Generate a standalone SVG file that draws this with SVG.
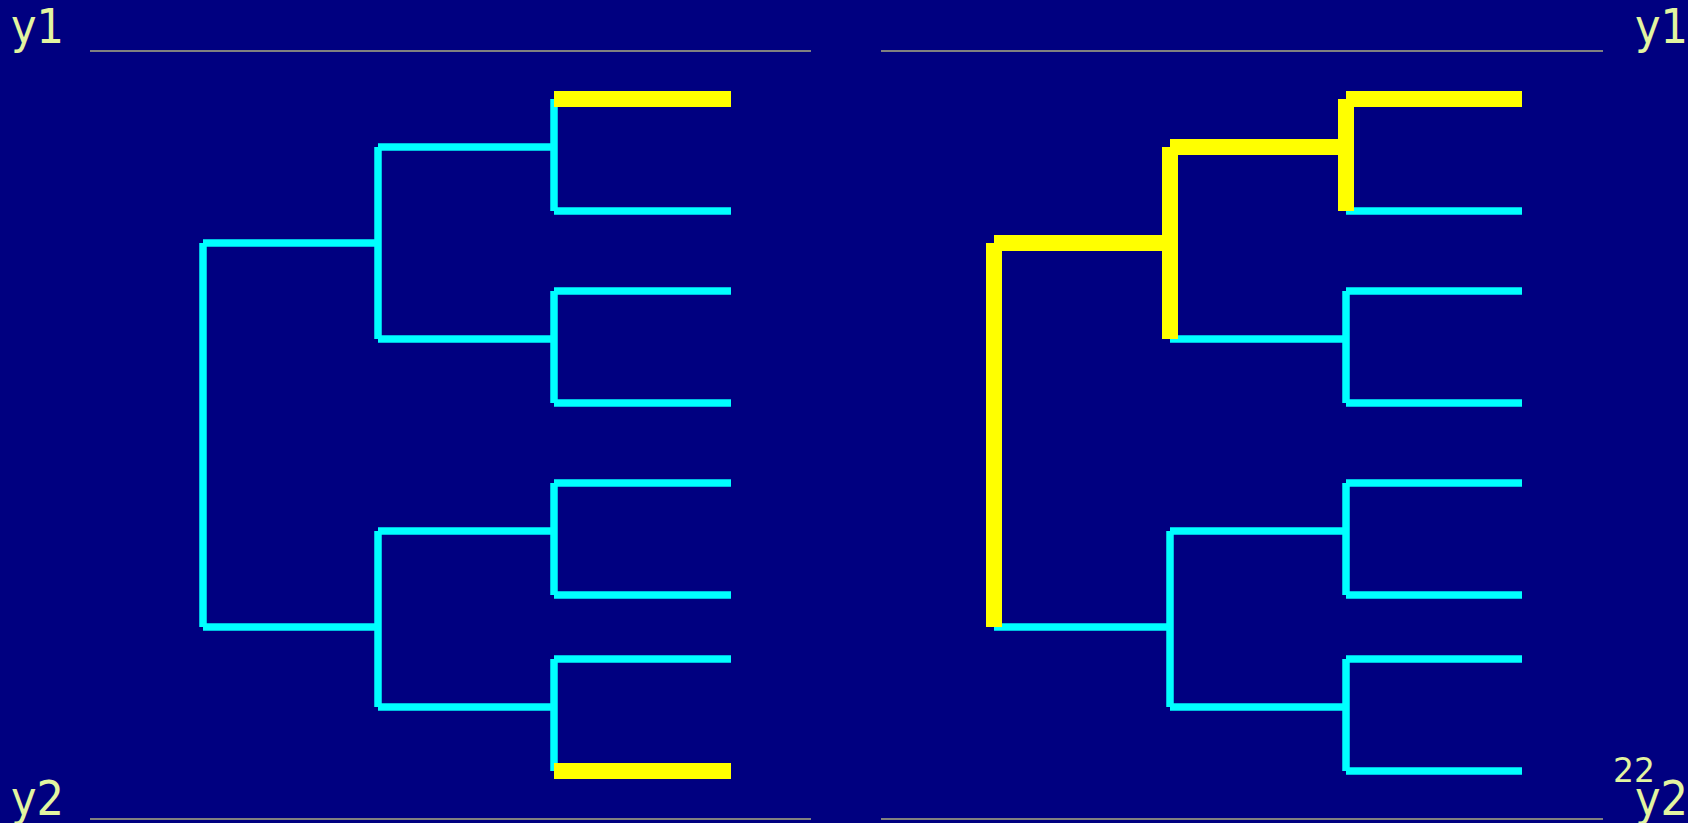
<svg xmlns="http://www.w3.org/2000/svg" width="1688" height="823" viewBox="0 0 1688 823">
<style>
.c{stroke:#00FFFF;stroke-width:7.5;fill:none;stroke-linecap:butt}
.y{stroke:#FFFF00;stroke-width:16;fill:none;stroke-linecap:butt}
.g{stroke:#808080;stroke-width:2}
.t{font-family:"DejaVu Sans Condensed","DejaVu Sans",sans-serif;font-stretch:condensed;fill:#E3F5A0}
.n{font-family:"DejaVu Sans",sans-serif;fill:#E3F5A0}
</style>
<rect width="1688" height="823" fill="#000080"/>
<g id="axes">
<line class="g" x1="90" y1="51" x2="811" y2="51"/>
<line class="g" x1="90" y1="819" x2="811" y2="819"/>
<line class="g" x1="881" y1="51" x2="1603" y2="51"/>
<line class="g" x1="881" y1="819" x2="1603" y2="819"/>
</g>
<g id="labels">
<text class="t" x="11" y="43" font-size="48">y1</text>
<text class="t" x="11" y="815" font-size="48">y2</text>
<text class="t" x="1635" y="43" font-size="48">y1</text>
<text class="n" x="1613" y="782" font-size="33">22</text>
<text class="t" x="1635" y="815" font-size="48">y2</text>
</g>
<g id="connectors">
<g id="tree-left">
<line class="c" x1="203" y1="243" x2="203" y2="627"/>
<line class="c" x1="203" y1="243" x2="378" y2="243"/>
<line class="c" x1="203" y1="627" x2="378" y2="627"/>
<line class="c" x1="378" y1="147" x2="378" y2="339"/>
<line class="c" x1="378" y1="531" x2="378" y2="707"/>
<line class="c" x1="378" y1="147" x2="554" y2="147"/>
<line class="c" x1="378" y1="339" x2="554" y2="339"/>
<line class="c" x1="378" y1="531" x2="554" y2="531"/>
<line class="c" x1="378" y1="707" x2="554" y2="707"/>
<line class="c" x1="554" y1="99" x2="554" y2="211"/>
<line class="c" x1="554" y1="291" x2="554" y2="403"/>
<line class="c" x1="554" y1="483" x2="554" y2="595"/>
<line class="c" x1="554" y1="659" x2="554" y2="771"/>
<line class="c" x1="554" y1="211" x2="731" y2="211"/>
<line class="c" x1="554" y1="291" x2="731" y2="291"/>
<line class="c" x1="554" y1="403" x2="731" y2="403"/>
<line class="c" x1="554" y1="483" x2="731" y2="483"/>
<line class="c" x1="554" y1="595" x2="731" y2="595"/>
<line class="c" x1="554" y1="659" x2="731" y2="659"/>
<line class="y" x1="554" y1="99" x2="731" y2="99"/>
<line class="y" x1="554" y1="771" x2="731" y2="771"/>
</g>
<g id="tree-right">
<line class="c" x1="994" y1="627" x2="1170" y2="627"/>
<line class="c" x1="1170" y1="339" x2="1346" y2="339"/>
<line class="c" x1="1170" y1="531" x2="1170" y2="707"/>
<line class="c" x1="1170" y1="531" x2="1346" y2="531"/>
<line class="c" x1="1170" y1="707" x2="1346" y2="707"/>
<line class="c" x1="1346" y1="291" x2="1346" y2="403"/>
<line class="c" x1="1346" y1="483" x2="1346" y2="595"/>
<line class="c" x1="1346" y1="659" x2="1346" y2="771"/>
<line class="c" x1="1346" y1="211" x2="1522" y2="211"/>
<line class="c" x1="1346" y1="291" x2="1522" y2="291"/>
<line class="c" x1="1346" y1="403" x2="1522" y2="403"/>
<line class="c" x1="1346" y1="483" x2="1522" y2="483"/>
<line class="c" x1="1346" y1="595" x2="1522" y2="595"/>
<line class="c" x1="1346" y1="659" x2="1522" y2="659"/>
<line class="c" x1="1346" y1="771" x2="1522" y2="771"/>
<line class="y" x1="994" y1="243" x2="994" y2="627"/>
<line class="y" x1="994" y1="243" x2="1170" y2="243"/>
<line class="y" x1="1170" y1="147" x2="1170" y2="339"/>
<line class="y" x1="1170" y1="147" x2="1346" y2="147"/>
<line class="y" x1="1346" y1="99" x2="1346" y2="211"/>
<line class="y" x1="1346" y1="99" x2="1522" y2="99"/>
</g>
</g>
</svg>
